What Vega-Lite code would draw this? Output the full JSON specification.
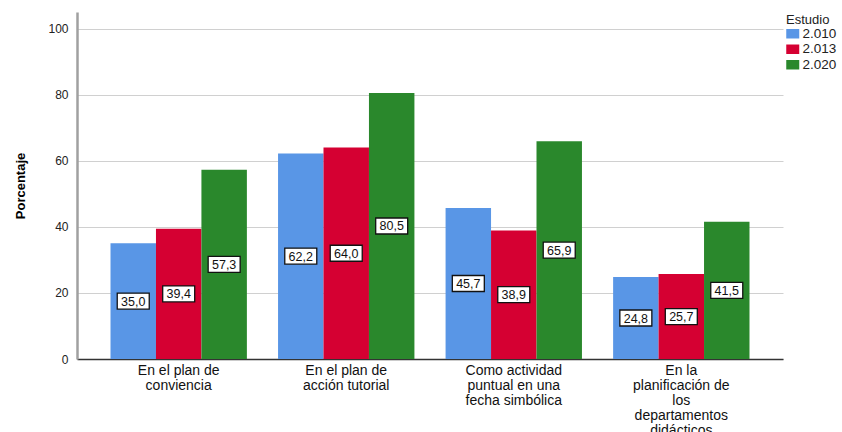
{
  "$schema": "https://vega.github.io/schema/vega-lite/v6.json",
  "autosize": "none",
  "padding": {"left": 77, "top": 12, "right": 59, "bottom": 73},
  "width": 706,
  "height": 347,
  "config": {
    "view": {"stroke": null},
    "font": "Liberation Sans",
    "locale": {"number": {"decimal": ",", "thousands": ".", "grouping": [3], "currency": ["", " €"]}}
  },
  "data": {
    "values": [
      {"cat": "En el plan de conviencia", "estudio": "2.010", "valor": 35.0},
      {"cat": "En el plan de conviencia", "estudio": "2.013", "valor": 39.4},
      {"cat": "En el plan de conviencia", "estudio": "2.020", "valor": 57.3},
      {"cat": "En el plan de acción tutorial", "estudio": "2.010", "valor": 62.2},
      {"cat": "En el plan de acción tutorial", "estudio": "2.013", "valor": 64.0},
      {"cat": "En el plan de acción tutorial", "estudio": "2.020", "valor": 80.5},
      {"cat": "Como actividad puntual en una fecha simbólica", "estudio": "2.010", "valor": 45.7},
      {"cat": "Como actividad puntual en una fecha simbólica", "estudio": "2.013", "valor": 38.9},
      {"cat": "Como actividad puntual en una fecha simbólica", "estudio": "2.020", "valor": 65.9},
      {"cat": "En la planificación de los departamentos didácticos", "estudio": "2.010", "valor": 24.8},
      {"cat": "En la planificación de los departamentos didácticos", "estudio": "2.013", "valor": 25.7},
      {"cat": "En la planificación de los departamentos didácticos", "estudio": "2.020", "valor": 41.5}
    ]
  },
  "encoding": {
    "x": {
      "field": "cat", "type": "nominal", "sort": null,
      "scale": {"paddingInner": 0.186, "paddingOuter": 0.2},
      "axis": {
        "title": null, "labelAngle": 0, "ticks": false,
        "domainColor": "#333333", "domainWidth": 1.5,
        "labelFontSize": 14, "labelColor": "#111111", "labelPadding": 4,
        "labelLineHeight": 15.2, "labelLimit": 300, "labelBaseline": "top",
        "labelExpr": "{'En el plan de conviencia': ['En el plan de', 'conviencia'], 'En el plan de acción tutorial': ['En el plan de', 'acción tutorial'], 'Como actividad puntual en una fecha simbólica': ['Como actividad', 'puntual en una', 'fecha simbólica'], 'En la planificación de los departamentos didácticos': ['En la', 'planificación de', 'los', 'departamentos', 'didácticos']}[datum.value]"
      }
    },
    "xOffset": {"field": "estudio", "type": "nominal", "scale": {"paddingInner": 0, "paddingOuter": 0}}
  },
  "layer": [
    {
      "mark": {"type": "bar"},
      "encoding": {
        "y": {
          "field": "valor", "type": "quantitative",
          "scale": {"domain": [0, 105], "nice": false},
          "axis": {
            "title": "Porcentaje", "titleFontSize": 13, "titleFont": "Liberation Sans", "titleFontWeight": "bold",
            "titleColor": "#000000", "titlePadding": 20,
            "values": [0, 20, 40, 60, 80, 100], "format": "d",
            "ticks": false, "labelPadding": 9, "labelFontSize": 12, "labelColor": "#222222",
            "domainColor": "#a0a0a0", "domainWidth": 2.5,
            "grid": true, "gridColor": "#d0d0d0", "gridWidth": 1
          }
        },
        "color": {
          "field": "estudio", "type": "nominal",
          "scale": {"range": ["#5996e6", "#d50032", "#2a882c"]},
          "legend": {
            "title": "Estudio", "orient": "none", "legendX": 709, "legendY": 2,
            "titleFontSize": 13, "titleFontWeight": "normal", "titleColor": "#222222", "titlePadding": 0,
            "symbolType": "M-1,-0.73H1V0.73H-1Z", "symbolSize": 169, "symbolStrokeWidth": 0, "symbolOpacity": 1,
            "labelFontSize": 13.5, "labelColor": "#222222", "labelOffset": 3, "rowPadding": 0.5
          }
        }
      }
    },
    {
      "layer": [
        {
          "mark": {"type": "point", "shape": "M-16,-8H16V8H-16Z", "size": 4, "filled": true, "fill": "white", "stroke": "#111111", "strokeWidth": 1.3, "opacity": 1},
          "encoding": {
            "y": {"field": "valor", "type": "quantitative", "scale": {"domain": [0, 210], "nice": false}, "axis": null}
          }
        },
        {
          "mark": {"type": "text", "fontSize": 12.5, "color": "#111111", "baseline": "middle", "align": "center", "dy": 0.5},
          "encoding": {
            "y": {"field": "valor", "type": "quantitative"},
            "text": {"field": "valor", "type": "quantitative", "format": ".1f"}
          }
        }
      ]
    }
  ],
  "resolve": {"scale": {"y": "independent"}}
}
